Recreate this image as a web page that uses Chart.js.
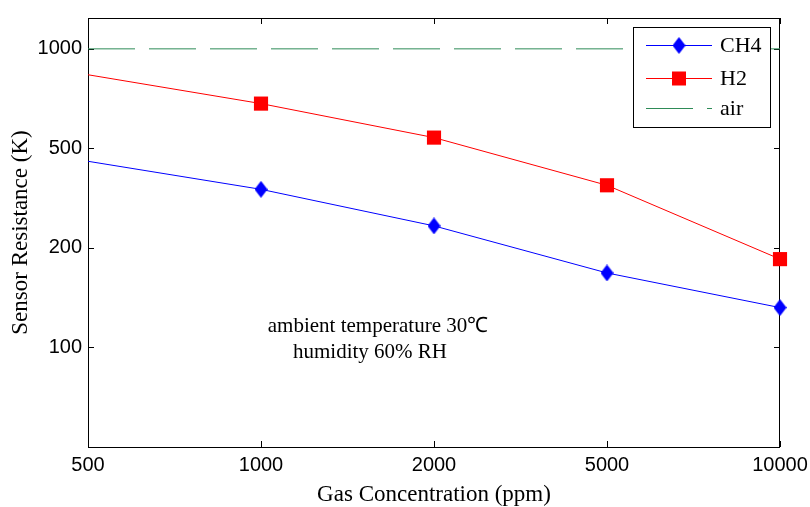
<!DOCTYPE html>
<html>
<head>
<meta charset="utf-8">
<script src="https://cdn.jsdelivr.net/npm/chart.js@4.4.0/dist/chart.umd.min.js"></script>
<style>
    html, body { margin: 0; padding: 0; background: #fff; }
</style>
</head>
<body>
<canvas id="chart" width="810" height="507"></canvas>
<script>
// Sensor response, values
const concentrations = [500, 1000, 2000, 5000, 10000];   // ppm
const ch4Resistance = [444, 343, 245, 168, 132];        // K
const h2Resistance = [835, 683, 539, 356, 185];         // K
const airConcentrations = [500, 10000];
const airResistance = [1000, 1000];

// Tick labels (the figure spaces them evenly)
const xTickValues = [500, 1000, 2000, 5000, 10000];
const yTickValues = [100, 200, 500, 1000];

const noteLines = ['ambient temperature 30\u2103', 'humidity 60% RH'];

const SERIF = '"Liberation Serif", "Times New Roman", serif';
const SANS = '"Liberation Sans", Arial, sans-serif';

// Map a value to its position on an evenly spaced tick axis (log between ticks)
function toAxis(v, ticks) {
    let i = 0;
    while (i < ticks.length - 2 && v > ticks[i + 1]) i++;
    const a = ticks[i], b = ticks[i + 1];
    return i + Math.log(v / a) / Math.log(b / a);
}

function toPoints(xs, ys) {
    return xs.map((x, i) => ({ x: toAxis(x, xTickValues), y: toAxis(ys[i], yTickValues) }));
}

// Matlab style diamond (taller than wide)
function makeDiamond(w, h, color) {
    const c = document.createElement('canvas');
    c.width = w;
    c.height = h;
    const g = c.getContext('2d');
    g.fillStyle = color;
    g.beginPath();
    g.moveTo(w / 2, 0);
    g.lineTo(w, h / 2);
    g.lineTo(w / 2, h);
    g.lineTo(0, h / 2);
    g.closePath();
    g.fill();
    return c;
}

const diamond = makeDiamond(13, 17, '#0000ff');

// Box with inward ticks on all four sides
const framePlugin = {
    id: 'frame',
    beforeDatasetsDraw(chart) {
        const { ctx, chartArea: a, scales } = chart;
        ctx.save();
        ctx.strokeStyle = '#000';
        ctx.lineWidth = 1;
        ctx.strokeRect(a.left + 0.5, a.top + 0.5, a.right - a.left - 1, a.bottom - a.top);
        ctx.beginPath();
        scales.x.ticks.forEach(t => {
            const px = Math.round(scales.x.getPixelForValue(t.value)) + 0.5;
            ctx.moveTo(px, a.bottom); ctx.lineTo(px, a.bottom - 6);
            ctx.moveTo(px, a.top); ctx.lineTo(px, a.top + 6);
        });
        scales.y.ticks.forEach(t => {
            const py = Math.round(scales.y.getPixelForValue(t.value)) + 0.5;
            ctx.moveTo(a.left, py); ctx.lineTo(a.left + 6, py);
            ctx.moveTo(a.right, py); ctx.lineTo(a.right - 6, py);
        });
        ctx.stroke();
        ctx.restore();
    }
};

// Legend box: line sample with marker, then label
const legendPlugin = {
    id: 'boxLegend',
    afterDraw(chart) {
        const ctx = chart.ctx;
        const box = { x: 633, y: 27, w: 137, h: 100 };
        const rows = [45, 78, 108];
        ctx.save();
        ctx.fillStyle = '#fff';
        ctx.fillRect(box.x, box.y, box.w, box.h);
        ctx.strokeStyle = '#000';
        ctx.lineWidth = 1;
        ctx.strokeRect(box.x + 0.5, box.y + 0.5, box.w, box.h);
        chart.data.datasets.forEach((ds, i) => {
            const y = rows[i] + 0.5;
            ctx.strokeStyle = ds.borderColor;
            ctx.setLineDash(ds.borderDash || []);
            ctx.beginPath();
            ctx.moveTo(646, y);
            ctx.lineTo(712, y);
            ctx.stroke();
            ctx.setLineDash([]);
            if (ds.pointStyle instanceof HTMLCanvasElement) {
                ctx.drawImage(ds.pointStyle, 679 - ds.pointStyle.width / 2, y - ds.pointStyle.height / 2);
            } else if (ds.pointStyle === 'rect') {
                ctx.fillStyle = ds.pointBackgroundColor;
                ctx.fillRect(672, y - 7, 14, 14);
            }
            ctx.fillStyle = '#000';
            ctx.font = '22px ' + SERIF;
            ctx.textBaseline = 'middle';
            ctx.textAlign = 'left';
            ctx.fillText(ds.label, 720, y + 1);
        });
        ctx.restore();
    }
};

// Measurement conditions note
const notePlugin = {
    id: 'note',
    afterDatasetsDraw(chart) {
        const ctx = chart.ctx;
        ctx.save();
        ctx.fillStyle = '#000';
        ctx.font = '21px ' + SERIF;
        ctx.textAlign = 'center';
        ctx.textBaseline = 'alphabetic';
        ctx.fillText(noteLines[0], 378, 332);
        ctx.fillText(noteLines[1], 370, 358);
        ctx.restore();
    }
};

const chart = new Chart(document.getElementById('chart'), {
    type: 'line',
    data: {
        datasets: [
            {
                label: 'CH4',
                data: toPoints(concentrations, ch4Resistance),
                borderColor: '#0000ff',
                borderWidth: 1,
                pointStyle: diamond,
                pointRadius: [0, 8, 8, 8, 8],
                pointBackgroundColor: '#0000ff',
                pointBorderWidth: 0,
                clip: false
            },
            {
                label: 'H2',
                data: toPoints(concentrations, h2Resistance),
                borderColor: '#ff0000',
                borderWidth: 1,
                pointStyle: 'rect',
                pointRadius: [0, 10, 10, 10, 10],
                pointBackgroundColor: '#ff0000',
                pointBorderWidth: 0,
                clip: false
            },
            {
                label: 'air',
                data: toPoints(airConcentrations, airResistance),
                borderColor: '#2e8b57',
                borderWidth: 1,
                borderDash: [47, 14],
                pointRadius: 0
            }
        ]
    },
    options: {
        responsive: false,
        animation: false,
        layout: {
            padding: { top: 16, right: 30, left: 0, bottom: 0 }
        },
        plugins: {
            legend: { display: false },
            tooltip: { enabled: false }
        },
        scales: {
            x: {
                type: 'linear',
                min: 0,
                max: xTickValues.length - 1,
                afterBuildTicks: scale => {
                    scale.ticks = xTickValues.map((v, i) => ({ value: i }));
                },
                afterFit: scale => {
                    scale.height = 60;
                    scale.paddingLeft = 0;
                    scale.paddingRight = 0;
                },
                grid: { display: false, drawTicks: false },
                border: { display: false },
                ticks: {
                    color: '#000',
                    padding: 6,
                    maxRotation: 0,
                    font: { family: SANS, size: 20 },
                    callback: v => xTickValues[Math.round(v)]
                },
                title: {
                    display: true,
                    text: 'Gas Concentration (ppm)',
                    color: '#000',
                    font: { family: SERIF, size: 23, lineHeight: 1 },
                    padding: { top: 0, bottom: 1 }
                }
            },
            y: {
                type: 'linear',
                min: -1,
                max: 3.31,
                afterBuildTicks: scale => {
                    scale.ticks = yTickValues.map((v, i) => ({ value: i }));
                },
                afterFit: scale => { scale.width = 88; },
                grid: { display: false, drawTicks: false },
                border: { display: false },
                ticks: {
                    color: '#000',
                    padding: 6,
                    font: { family: SANS, size: 20 },
                    callback: v => yTickValues[Math.round(v)]
                },
                title: {
                    display: true,
                    text: 'Sensor Resistance (K)',
                    color: '#000',
                    font: { family: SERIF, size: 23, lineHeight: 1 },
                    padding: { top: 9, bottom: 0 }
                }
            }
        }
    },
    plugins: [framePlugin, notePlugin, legendPlugin]
});
</script>
</body>
</html>
